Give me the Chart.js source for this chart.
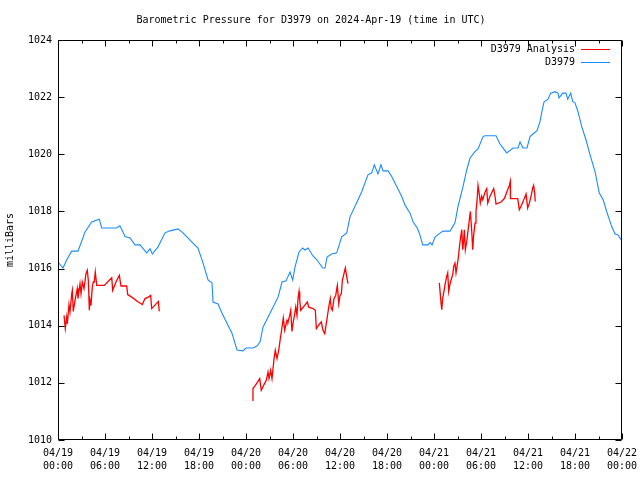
<!DOCTYPE html>
<html>
<head>
<meta charset="utf-8">
<script src="https://cdn.jsdelivr.net/npm/chart.js@4.4.1/dist/chart.umd.min.js"></script>
<style>
  html, body { margin: 0; padding: 0; background: #fff; }
  #wrap { width: 640px; height: 480px; position: relative; }
</style>
</head>
<body>
<div id="wrap"><canvas id="c" width="640" height="480"></canvas></div>
<script>
const titleText = 'Barometric Pressure for D3979 on 2024-Apr-19 (time in UTC)';
const yAxisTitle = 'milliBars';
const dateLabels = ['04/19','04/19','04/19','04/19','04/20','04/20','04/20','04/20','04/21','04/21','04/21','04/21','04/22'];
const timeLabels = ['00:00','06:00','12:00','18:00','00:00','06:00','12:00','18:00','00:00','06:00','12:00','18:00','00:00'];
const yTickValues = [1010, 1012, 1014, 1016, 1018, 1020, 1022, 1024];

const seriesNames = ['D3979 Analysis', 'D3979'];

// Hours since 2024-04-19 00:00 UTC
const blueHours = [0,0.64,1.11,1.75,2.55,3.45,4.30,5.27,5.58,7.49,
7.9,8.17,8.55,9.19,9.83,10.47,11.32,11.75,12.04,12.77,
13.66,14.30,15.32,15.96,16.21,17.23,17.87,18.51,19.15,19.66,
19.79,20.43,20.94,21.70,22.21,22.85,23.62,24.0,24.89,25.4,
25.79,26.17,26.81,27.45,28.09,28.60,29.11,29.62,29.96,30.26,
30.77,31.24,31.53,31.92,32.55,33.07,33.79,34.09,34.34,34.94,
35.58,36.22,36.86,37.28,38.13,38.77,39.19,39.57,40.05,40.38,
40.85,41.23,41.49,42.13,42.60,43.24,43.88,44.30,44.94,45.32,
45.87,46.21,46.56,47.24,47.49,47.75,48.13,48.77,49.15,50.04,
50.68,51.06,51.70,52.18,52.60,53.23,53.62,54.26,54.51,55.92,
56.43,57.28,58.09,58.73,58.98,59.36,59.87,60.26,60.64,61.15,
61.53,61.75,62.04,62.55,62.90,63.45,63.83,63.96,64.43,64.85,
65.07,65.45,65.71,66.0,66.38,66.86,67.41,67.92,68.56,69.10,
69.61,70.05,70.69,71.11,71.49,72.0];
const blueValues = [1016.23,1016.02,1016.30,1016.61,1016.61,1017.28,1017.63,1017.73,1017.42,1017.42,
1017.50,1017.35,1017.12,1017.07,1016.83,1016.83,1016.55,1016.69,1016.51,1016.76,
1017.25,1017.32,1017.39,1017.25,1017.18,1016.89,1016.72,1016.20,1015.60,1015.50,
1014.83,1014.76,1014.44,1014.02,1013.74,1013.15,1013.12,1013.22,1013.22,1013.29,
1013.43,1013.95,1014.30,1014.65,1015.00,1015.53,1015.57,1015.88,1015.60,1016.06,
1016.58,1016.72,1016.65,1016.72,1016.44,1016.30,1016.02,1016.02,1016.40,1016.51,
1016.55,1017.11,1017.25,1017.81,1018.30,1018.69,1019.00,1019.28,1019.35,1019.63,
1019.31,1019.63,1019.42,1019.42,1019.22,1018.87,1018.52,1018.22,1017.94,1017.64,
1017.42,1017.17,1016.83,1016.83,1016.91,1016.83,1017.10,1017.24,1017.31,1017.31,
1017.60,1018.17,1018.87,1019.45,1019.87,1020.09,1020.19,1020.62,1020.65,1020.65,
1020.36,1020.05,1020.22,1020.22,1020.43,1020.22,1020.22,1020.62,1020.71,1020.83,
1021.14,1021.46,1021.83,1021.93,1022.14,1022.19,1022.14,1021.97,1022.14,1022.14,
1021.93,1022.14,1021.84,1021.80,1021.49,1020.97,1020.50,1019.98,1019.39,1018.64,
1018.40,1017.99,1017.47,1017.21,1017.18,1016.97];

// Analysis series (null = gap between runs)
const redHours = [0.77,0.93,1.11,1.19,1.40,1.53,1.75,1.83,1.95,2.17,
2.46,2.55,2.81,2.94,3.10,3.32,3.57,3.74,3.87,4.00,
4.09,4.21,4.38,4.51,4.63,4.76,4.94,5.91,6.86,6.98,
7.40,7.83,8.04,8.77,8.90,9.41,10.25,10.76,11.11,11.53,
11.83,11.96,12.81,12.93,
13.5,
24.81,24.89,25.19,25.53,25.75,25.95,26.30,26.59,26.81,26.94,
27.15,27.32,27.58,27.74,27.96,28.21,28.38,28.51,28.69,28.76,
28.94,29.07,29.24,29.36,29.58,29.71,29.87,30.00,30.22,30.35,
30.51,30.64,30.77,30.86,30.98,31.49,31.83,32.01,32.55,32.85,
32.98,33.41,33.61,33.83,34.05,34.25,34.47,34.60,34.76,34.89,
35.02,35.24,35.45,35.66,35.84,36.0,36.17,36.30,36.51,36.68,
36.86,37.02,
42,
48.68,48.90,48.99,49.11,49.24,49.45,49.62,49.75,49.88,50.04,
50.26,50.39,50.52,50.68,50.81,50.94,51.10,51.23,51.36,51.54,
51.67,51.79,51.87,52.00,52.18,52.31,52.51,52.64,52.82,52.94,
53.07,53.24,53.36,53.49,53.62,53.79,53.91,54.09,54.22,54.55,
54.73,54.86,55.15,55.41,55.62,55.79,55.92,56.56,56.98,57.32,
57.62,57.74,57.76,58.69,58.89,59.24,59.53,59.75,59.96,60.17,
60.38,60.60,60.72,60.85,60.93];
const redValues = [1014.36,1013.90,1014.30,1014.07,1014.73,1014.48,1015.12,1015.24,1014.50,1014.89,
1015.30,1014.95,1015.47,1015.12,1015.53,1015.30,1015.82,1015.94,1015.59,1014.54,
1014.89,1014.71,1015.36,1015.53,1015.53,1015.88,1015.41,1015.41,1015.68,1015.24,
1015.53,1015.76,1015.39,1015.39,1015.09,1015.00,1014.83,1014.74,1014.95,1015.00,
1015.06,1014.60,1014.85,1014.50,
null,
1011.39,1011.80,1011.91,1012.05,1012.15,1011.74,1011.94,1012.09,1012.38,1012.15,
1012.44,1012.15,1012.85,1013.14,1012.85,1013.20,1013.55,1013.78,1014.13,1014.27,
1013.84,1014.01,1014.19,1014.13,1014.36,1014.54,1013.80,1014.07,1014.42,1014.66,
1014.36,1014.95,1015.20,1014.89,1014.54,1014.71,1014.83,1014.65,1014.60,1014.54,
1013.90,1014.07,1014.13,1013.84,1013.72,1014.07,1014.48,1014.71,1014.95,1014.60,
1014.54,1014.95,1015.06,1015.41,1014.77,1015.06,1015.12,1015.59,1015.82,1016.02,
1015.71,1015.47,
null,
1015.50,1014.79,1014.56,1014.97,1015.15,1015.50,1015.73,1015.85,1015.20,1015.46,
1015.67,1015.79,1016.08,1016.19,1015.85,1016.08,1016.37,1016.72,1017.01,1017.36,
1016.66,1017.01,1017.36,1016.66,1016.95,1017.25,1017.71,1018.00,1017.30,1016.66,
1017.19,1017.59,1018.00,1018.35,1018.91,1018.59,1018.29,1018.53,1018.41,1018.70,
1018.80,1018.29,1018.53,1018.68,1018.80,1018.53,1018.26,1018.33,1018.45,1018.70,
1018.91,1019.05,1018.45,1018.45,1018.06,1018.26,1018.45,1018.61,1018.12,1018.29,
1018.53,1018.82,1018.91,1018.64,1018.35];

const FONT = 'DejaVu Sans Mono';
Chart.defaults.font.family = FONT;
Chart.defaults.font.size = 10;
Chart.defaults.color = '#000';

const framePlugin = {
  id: 'gnuFrame',
  afterDraw(chart) {
    const { ctx, chartArea: a, scales } = chart;
    const xs = scales.x, ys = scales.y;
    const L = Math.round(a.left) + 0.5, R = Math.round(a.right) - 0.5;
    const T = Math.round(a.top) + 0.5, B = Math.round(a.bottom) - 0.5;
    ctx.save();
    ctx.strokeStyle = '#000';
    ctx.lineWidth = 1;
    ctx.beginPath();
    ctx.rect(L, T, R - L, B - T);
    // x ticks (inward, major every 6h, minor every 3h)
    for (let h = 0; h <= 72; h += 3) {
      const px = Math.round(xs.getPixelForValue(h)) + 0.5;
      const len = (h % 6 === 0) ? 6 : 3;
      ctx.moveTo(px, B); ctx.lineTo(px, B - len);
      ctx.moveTo(px, T); ctx.lineTo(px, T + len);
    }
    // y ticks
    yTickValues.forEach(v => {
      const py = Math.round(ys.getPixelForValue(v)) + 0.5;
      ctx.moveTo(L, py); ctx.lineTo(L + 6, py);
      ctx.moveTo(R, py); ctx.lineTo(R - 6, py);
    });
    ctx.stroke();

    // legend (text right aligned, line sample to the right)
    ctx.font = '10px "' + FONT + '"';
    ctx.textAlign = 'right';
    ctx.textBaseline = 'middle';
    ctx.fillStyle = '#000';
    chart.data.datasets.forEach((ds, i) => {
      const yy = a.top + 9 + i * 13;
      ctx.fillText(ds.label, a.right - 47, yy);
      ctx.beginPath();
      ctx.strokeStyle = ds.borderColor;
      ctx.lineWidth = 1;
      ctx.moveTo(a.right - 41, Math.round(yy) + 0.5);
      ctx.lineTo(a.right - 12, Math.round(yy) + 0.5);
      ctx.stroke();
    });
    ctx.restore();
  }
};

new Chart(document.getElementById('c'), {
  type: 'line',
  data: {
    datasets: [
      {
        label: seriesNames[0],
        data: redHours.map((h, i) => ({ x: h, y: redValues[i] })),
        borderColor: '#ff0000',
        borderWidth: 1.3,
        pointRadius: 0,
        tension: 0,
        spanGaps: false,
        fill: false
      },
      {
        label: seriesNames[1],
        data: blueHours.map((h, i) => ({ x: h, y: blueValues[i] })),
        borderColor: '#1a8cff',
        borderWidth: 1.1,
        pointRadius: 0,
        tension: 0,
        fill: false
      }
    ]
  },
  options: {
    responsive: false,
    animation: false,
    events: [],
    layout: { padding: { left: 0, right: 18, top: 0, bottom: 0 } },
    plugins: {
      legend: { display: false },
      tooltip: { enabled: false },
      title: {
        display: true,
        text: titleText,
        color: '#000',
        font: { family: FONT, size: 10, weight: 'normal', lineHeight: 1.2 },
        padding: { top: 14, bottom: 14 }
      }
    },
    scales: {
      x: {
        type: 'linear',
        min: 0,
        max: 72,
        grid: { display: false, drawTicks: false },
        border: { display: false },
        afterFit(scale) {
          scale.height = 40;
          scale.paddingLeft = 0;
          scale.paddingRight = 0;
        },
        ticks: {
          stepSize: 6,
          autoSkip: false,
          maxRotation: 0,
          minRotation: 0,
          padding: 7,
          font: { family: FONT, size: 10, lineHeight: 1.3 },
          callback(value) {
            const i = Math.round(value / 6);
            return [dateLabels[i], timeLabels[i]];
          }
        }
      },
      y: {
        type: 'linear',
        min: 1010,
        max: 1024,
        grid: { display: false, drawTicks: false },
        border: { display: false },
        afterFit(scale) {
          scale.width = 58;
          scale.paddingTop = 0;
          scale.paddingBottom = 0;
        },
        afterBuildTicks(scale) { scale.ticks = yTickValues.map(v => ({ value: v })); },
        ticks: {
          padding: 6,
          font: { family: FONT, size: 10 },
          callback(value) { return String(value); }
        },
        title: {
          display: true,
          text: yAxisTitle,
          font: { family: FONT, size: 10, lineHeight: 1.2 },
          padding: { top: 4, bottom: 0 }
        }
      }
    }
  },
  plugins: [framePlugin]
});
</script>
</body>
</html>
